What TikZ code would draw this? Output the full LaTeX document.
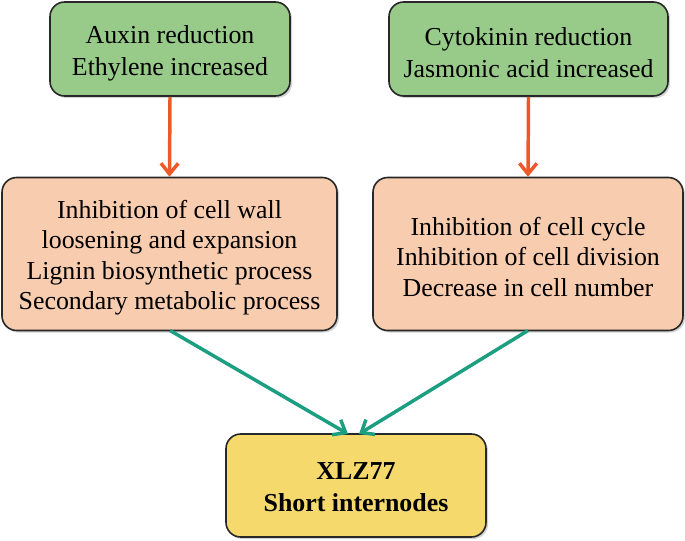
\documentclass[tikz,border=0pt]{standalone}
\usepackage{fontspec}
\setmainfont{Liberation Serif}
\usetikzlibrary{arrows.meta,shadows}
\definecolor{gfill}{RGB}{152,203,138}
\definecolor{ofill}{RGB}{248,204,174}
\definecolor{yfill}{RGB}{245,217,108}
\definecolor{oarrow}{RGB}{238,88,38}
\definecolor{tarrow}{RGB}{28,158,128}
\definecolor{bdr}{RGB}{40,40,40}
\tikzset{
  px/.style={x=0.75pt,y=-0.75pt},
  boxbase/.style={draw=bdr,line width=1.2pt,rounded corners=11pt,inner sep=0pt,
    drop shadow={shadow xshift=1.5pt,shadow yshift=-1.5pt,opacity=0.35}},
  greenbox/.style={boxbase,fill=gfill},
  orangebox/.style={boxbase,fill=ofill},
  yellowbox/.style={boxbase,fill=yfill},
  gtext/.style={align=center,inner sep=0pt,font=\fontsize{19.4}{24}\selectfont},
  otext/.style={align=center,inner sep=0pt,font=\fontsize{19.4}{22.8}\selectfont},
  ytext/.style={align=center,inner sep=0pt,font=\bfseries\fontsize{19.4}{24}\selectfont},
  oarr/.style={draw=oarrow,line width=2.6pt,-{Straight Barb[length=8pt,width=13pt,line width=2.6pt]}},
  tarr/.style={draw=tarrow,line width=2.6pt,-{Straight Barb[length=8pt,width=13pt,line width=2.6pt]}}
}
\begin{document}
\begin{tikzpicture}[px]
\useasboundingbox (0,0) rectangle (685,540);
\node[greenbox,minimum width=240*0.75pt,minimum height=94*0.75pt] (g1) at (170,49) {};
\node[gtext] (g1t) at (170,53) {Auxin reduction\\Ethylene increased};
\node[greenbox,minimum width=279*0.75pt,minimum height=94*0.75pt] (g2) at (528.5,49) {};
\node[gtext] (g2t) at (528.5,53) {Cytokinin reduction\\Jasmonic acid increased};
\node[orangebox,minimum width=335*0.75pt,minimum height=153*0.75pt] (o1) at (169.5,254) {};
\node[otext] (o1t) at (169.5,257.5)
  {Inhibition of cell wall\\loosening and expansion\\Lignin biosynthetic process\\Secondary metabolic process};
\node[orangebox,minimum width=310*0.75pt,minimum height=153*0.75pt] (o2) at (528,254) {};
\node[otext] (o2t) at (528,257)
  {Inhibition of cell cycle\\Inhibition of cell division\\Decrease in cell number};
\node[yellowbox,minimum width=260*0.75pt,minimum height=103*0.75pt] (y) at (356,485.5) {};
\node[ytext] (yt) at (356,487.5) {XLZ77\\Short internodes};
\coordinate (ya) at (348,434);
\coordinate (yb) at (359,434);
\coordinate (o1s) at (170,330.5);
\coordinate (o2s) at (528,330.5);
\draw[oarr] (g1.south) -- (o1.north);
\draw[oarr] (g2.south) -- (o2.north);
\draw[tarr] (o1s) -- (ya);
\draw[tarr] (o2s) -- (yb);
\end{tikzpicture}
\end{document}
